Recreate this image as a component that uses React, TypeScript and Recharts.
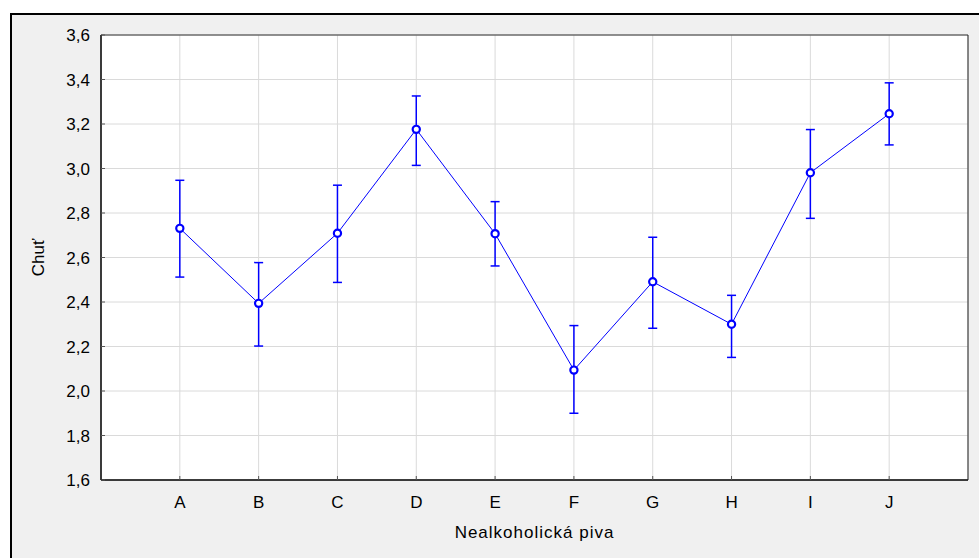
import React from 'react';
import { LineChart, Line, XAxis, YAxis, CartesianGrid, ErrorBar, Label } from 'recharts';

const categories = ['A', 'B', 'C', 'D', 'E', 'F', 'G', 'H', 'I', 'J'];
const means = [2.731, 2.394, 2.709, 3.176, 2.707, 2.094, 2.491, 2.3, 2.981, 3.246];
const lowerBounds = [2.512, 2.202, 2.488, 3.014, 2.562, 1.9, 2.282, 2.151, 2.776, 3.106];
const upperBounds = [2.947, 2.577, 2.925, 3.326, 2.851, 2.294, 2.691, 2.43, 3.175, 3.385];
const yTicks = [1.6, 1.8, 2.0, 2.2, 2.4, 2.6, 2.8, 3.0, 3.2, 3.4, 3.6];
const xTicks = [1, 2, 3, 4, 5, 6, 7, 8, 9, 10];

const data = categories.map((c, i) => ({
  x: i + 1,
  name: c,
  mean: means[i],
  err: [means[i] - lowerBounds[i], upperBounds[i] - means[i]],
}));

const FONT = '"Liberation Sans", Arial, sans-serif';
const fmtY = (v: number) => v.toFixed(1).replace('.', ',');
const fmtX = (v: number) => categories[v - 1] ?? '';

const YLabel = (props: any) => {
  const vb = props.viewBox || { x: 10, y: 35, width: 91, height: 445 };
  const cx = vb.x + 28;
  const cy = vb.y + vb.height / 2;
  return (
    <text
      x={cx}
      y={cy}
      transform={`rotate(-90 ${cx} ${cy})`}
      textAnchor="middle"
      dominantBaseline="central"
      fontSize={17}
      fontFamily={FONT}
      fill="#000"
    >
      Chuť
    </text>
  );
};

export default function App() {
  return (
    <div style={{ position: 'absolute', left: 0, top: 0, width: 979, height: 558, overflow: 'hidden', background: '#fff' }}>
      <div
        style={{
          position: 'absolute',
          left: 10,
          top: 13,
          width: 1000,
          height: 600,
          border: '2px solid #000',
          background: '#f0f0f0',
        }}
      />
      <div style={{ position: 'absolute', left: 0, top: 0 }}>
        <LineChart
          width={979}
          height={558}
          data={data}
          margin={{ top: 34, right: 10, bottom: 0, left: 10 }}
          style={{ fontFamily: FONT }}
        >
          <CartesianGrid stroke="#dadada" strokeWidth={1} fill="#ffffff" />
          <XAxis
            dataKey="x"
            type="number"
            domain={[0, 11]}
            ticks={xTicks}
            tickFormatter={fmtX}
            height={78}
            tickSize={-4}
            tickMargin={20}
            tick={{ fontSize: 17, fill: '#000', fontFamily: FONT }}
            axisLine={{ stroke: '#000', strokeWidth: 1.5 }}
            tickLine={{ stroke: '#555' }}
            interval={0}
            allowDecimals={false}
          >
            <Label
              value="Nealkoholická piva"
              position="insideBottom"
              offset={20}
              style={{ fontSize: 17, fill: '#000', fontFamily: FONT, letterSpacing: 1 }}
            />
          </XAxis>
          <XAxis
            xAxisId="top"
            orientation="top"
            dataKey="x"
            type="number"
            domain={[0, 11]}
            ticks={xTicks}
            height={1}
            tick={false}
            tickSize={-4}
            axisLine={{ stroke: '#333' }}
            tickLine={{ stroke: '#555' }}
            interval={0}
          />
          <YAxis
            type="number"
            domain={[1.6, 3.6]}
            ticks={yTicks}
            tickFormatter={fmtY}
            width={91}
            tickSize={-4}
            tickMargin={15}
            tick={{ fontSize: 17, fill: '#000', fontFamily: FONT }}
            axisLine={{ stroke: '#000', strokeWidth: 1.5 }}
            tickLine={{ stroke: '#555' }}
            interval={0}
            allowDataOverflow
          >
            <Label content={<YLabel />} />
          </YAxis>
          <YAxis
            yAxisId="right"
            orientation="right"
            type="number"
            domain={[1.6, 3.6]}
            ticks={yTicks}
            width={1}
            tick={false}
            tickSize={-4}
            axisLine={{ stroke: '#222' }}
            tickLine={{ stroke: '#555' }}
            interval={0}
          />
          <Line
            dataKey="mean"
            stroke="#0000ff"
            strokeWidth={1}
            isAnimationActive={false}
            dot={{ r: 3.6, stroke: '#0000ff', strokeWidth: 2.2, fill: '#ffffff' }}
            activeDot={false}
          >
            <ErrorBar dataKey="err" direction="y" width={4.5} stroke="#0000ff" strokeWidth={1.5} isAnimationActive={false} />
          </Line>
        </LineChart>
      </div>
    </div>
  );
}
